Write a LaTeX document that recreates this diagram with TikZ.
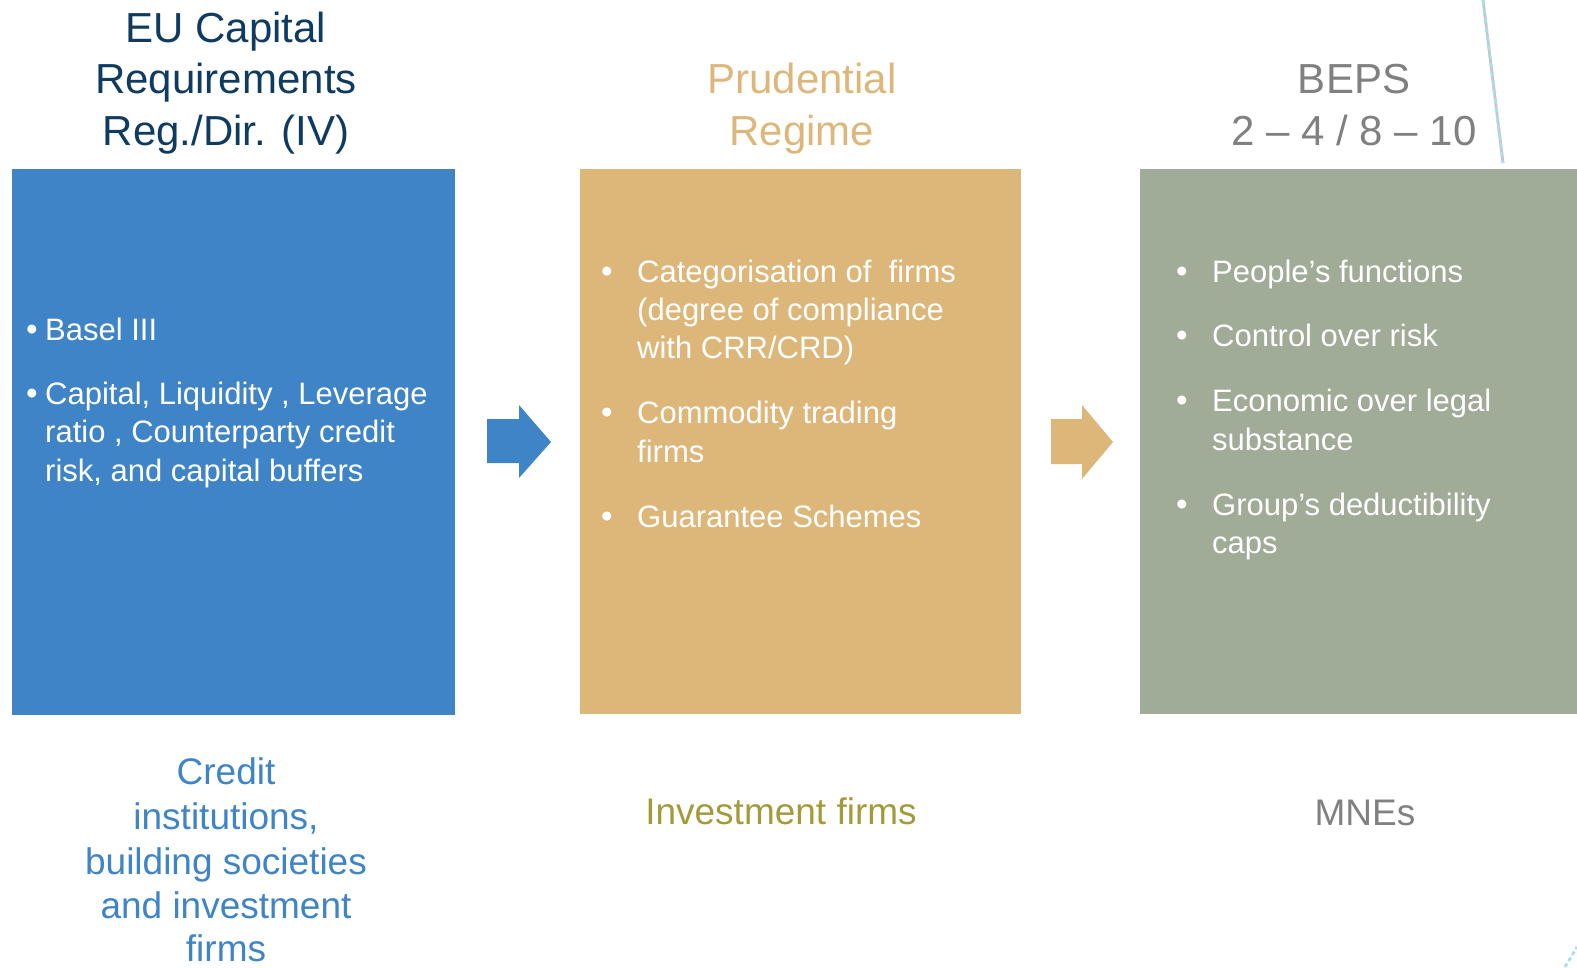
\documentclass[tikz,border=0pt]{standalone}
\usepackage{fontspec}
\setmainfont{Liberation Sans}
\definecolor{cblue}{HTML}{3E84C6}
\definecolor{ctan}{HTML}{DDB77A}
\definecolor{cgreen}{HTML}{A0AB98}
\definecolor{cnavy}{HTML}{0F3B61}
\definecolor{cgray}{HTML}{808080}
\definecolor{colive}{HTML}{A39A3C}
\definecolor{cline}{HTML}{A8DDEE}
\begin{document}
\begin{tikzpicture}[x=1pt,y=-1pt,
  ttl/.style={anchor=base, inner sep=0pt, font=\fontsize{42}{51}\selectfont},
  itm/.style={anchor=base west, inner sep=0pt, text=white, font=\fontsize{31}{38}\selectfont},
  blt/.style={anchor=base, inner sep=0pt, text=white, font=\fontsize{33}{38}\selectfont},
  btm/.style={anchor=base, inner sep=0pt, font=\fontsize{37}{44}\selectfont}]
\useasboundingbox (0,0) rectangle (1577,967);
% boxes
\fill[cblue] (12,169) rectangle (455,715);
\fill[ctan] (580,169) rectangle (1021,714);
\fill[cgreen] (1140,169) rectangle (1577,714);
% arrows
\fill[cblue] (487,419) -- (519,419) -- (519,405) -- (551,442) -- (519,478) -- (519,463) -- (487,463) -- cycle;
\fill[ctan] (1051,419) -- (1082,419) -- (1082,405) -- (1113,442) -- (1082,479) -- (1082,464) -- (1051,464) -- cycle;
% striped line
\coordinate (la) at (1483,0); \coordinate (lb) at (1503,163);
\draw[gray!45, line width=2.8pt] (la) -- (lb);
\draw[cline, line width=2.8pt, dash pattern=on 5pt off 4pt] (la) -- (lb);
\coordinate (lc) at (1565,967); \coordinate (ld) at (1577,947);
\draw[cline, line width=2.8pt, dash pattern=on 4pt off 3pt] (lc) -- (ld);
% titles
\node[ttl, text=cnavy] (t1a) at (226,42) {EU Capital};
\node[ttl, text=cnavy] (t1b) at (226,93) {Requirements};
\node[ttl, text=cnavy] (t1c) at (226,145) {Reg./Dir. (IV)};
\node[ttl, text=ctan] (t2a) at (802,93) {Prudential};
\node[ttl, text=ctan] (t2b) at (802,145) {Regime};
\node[ttl, text=cgray] (t3a) at (1354,93) {BEPS};
\node[ttl, text=cgray] (t3b) at (1354,145) {2 – 4 / 8 – 10};
% blue items
\node[blt] (bb1) at (32,340) {•};
\node[itm] (i11) at (45,340) {Basel III};
\node[blt] (bb2) at (32,404) {•};
\node[itm] (i12a) at (45,404) {Capital, Liquidity , Leverage};
\node[itm] (i12b) at (45,442) {ratio , Counterparty credit};
\node[itm] (i12c) at (45,481) {risk, and capital buffers};
% tan items
\node[blt] (tb1) at (607,282) {•};
\node[itm] (i21a) at (637,282) {Categorisation of\ \ firms};
\node[itm] (i21b) at (637,320) {(degree of compliance};
\node[itm] (i21c) at (637,358) {with CRR/CRD)};
\node[blt] (tb2) at (607,423) {•};
\node[itm] (i22a) at (637,423) {Commodity trading};
\node[itm] (i22b) at (637,462) {firms};
\node[blt] (tb3) at (607,527) {•};
\node[itm] (i23) at (637,527) {Guarantee Schemes};
% green items
\node[blt] (gb1) at (1182,282) {•};
\node[itm] (i31) at (1212,282) {People’s functions};
\node[blt] (gb2) at (1182,346) {•};
\node[itm] (i32) at (1212,346) {Control over risk};
\node[blt] (gb3) at (1182,411) {•};
\node[itm] (i33a) at (1212,411) {Economic over legal};
\node[itm] (i33b) at (1212,450) {substance};
\node[blt] (gb4) at (1182,515) {•};
\node[itm] (i34a) at (1212,515) {Group’s deductibility};
\node[itm] (i34b) at (1212,553) {caps};
% bottom labels
\node[btm, text=cblue] (c1) at (226,784) {Credit};
\node[btm, text=cblue] (c2) at (226,829) {institutions,};
\node[btm, text=cblue] (c3) at (226,874) {building societies};
\node[btm, text=cblue] (c4) at (226,918) {and investment};
\node[btm, text=cblue] (c5) at (226,961) {firms};
\node[btm, text=colive] (c6) at (781,824) {Investment firms};
\node[btm, text=cgray] (c7) at (1365,825) {MNEs};
\end{tikzpicture}
\end{document}
